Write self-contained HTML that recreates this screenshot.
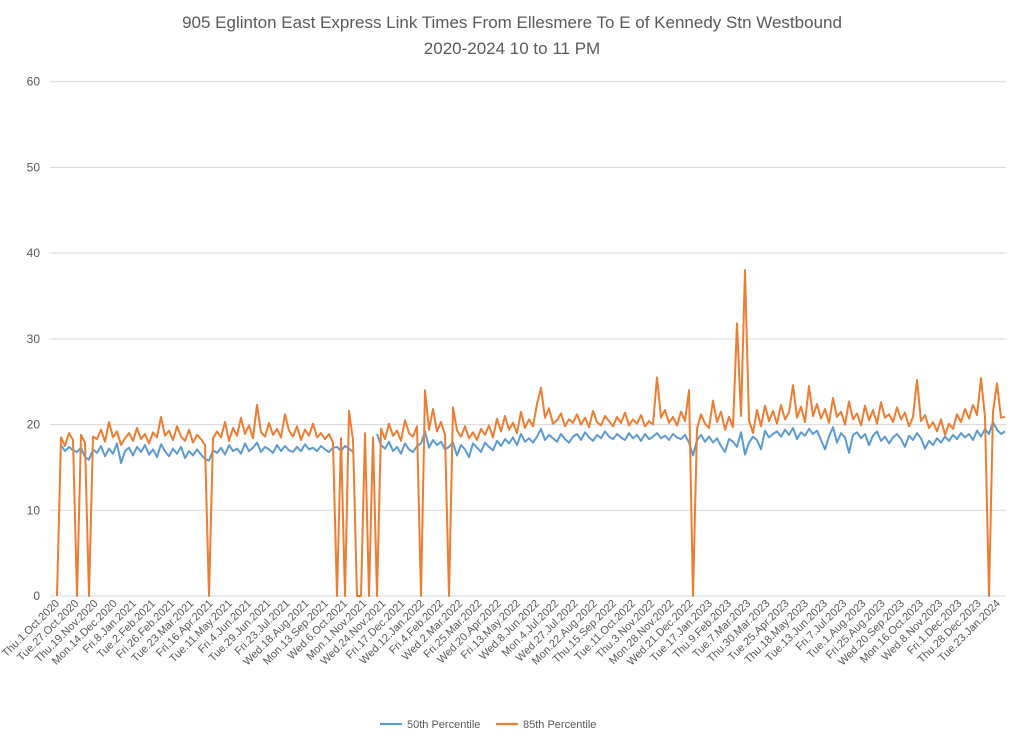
<!DOCTYPE html>
<html><head><meta charset="utf-8"><style>
body{margin:0;background:#fff;font-family:"Liberation Sans",sans-serif}
</style></head><body>
<svg id="chart" width="1024" height="743" viewBox="0 0 1024 743" xmlns="http://www.w3.org/2000/svg">
<rect width="1024" height="743" fill="#fff"/>
<text x="512" y="28" text-anchor="middle" font-size="17" fill="#595959">905 Eglinton East Express Link Times From Ellesmere To E of Kennedy Stn Westbound</text>
<text x="512" y="54" text-anchor="middle" font-size="17" fill="#595959">2020-2024 10 to 11 PM</text>
<g id="grid"></g>
<g id="yticks"></g>
<g id="xticks"></g>
<g id="series"></g>
<g>
<line x1="380" y1="724" x2="402" y2="724" stroke="#5B9BD5" stroke-width="2.2"/>
<text x="407" y="728" font-size="11" fill="#595959">50th Percentile</text>
<line x1="496" y1="724" x2="518" y2="724" stroke="#ED7D31" stroke-width="2.2"/>
<text x="523" y="728" font-size="11" fill="#595959">85th Percentile</text>
</g>
</svg>
<script>
const tickLabels=["Thu.1.Oct.2020","Tue.27.Oct.2020","Thu.19.Nov.2020","Mon.14.Dec.2020","Fri.8.Jan.2021","Tue.2.Feb.2021","Fri.26.Feb.2021","Tue.23.Mar.2021","Fri.16.Apr.2021","Tue.11.May.2021","Fri.4.Jun.2021","Tue.29.Jun.2021","Fri.23.Jul.2021","Wed.18.Aug.2021","Mon.13.Sep.2021","Wed.6.Oct.2021","Mon.1.Nov.2021","Wed.24.Nov.2021","Fri.17.Dec.2021","Wed.12.Jan.2022","Fri.4.Feb.2022","Wed.2.Mar.2022","Fri.25.Mar.2022","Wed.20.Apr.2022","Fri.13.May.2022","Wed.8.Jun.2022","Mon.4.Jul.2022","Wed.27.Jul.2022","Mon.22.Aug.2022","Thu.15.Sep.2022","Tue.11.Oct.2022","Thu.3.Nov.2022","Mon.28.Nov.2022","Wed.21.Dec.2022","Tue.17.Jan.2023","Thu.9.Feb.2023","Tue.7.Mar.2023","Thu.30.Mar.2023","Tue.25.Apr.2023","Thu.18.May.2023","Tue.13.Jun.2023","Fri.7.Jul.2023","Tue.1.Aug.2023","Fri.25.Aug.2023","Wed.20.Sep.2023","Mon.16.Oct.2023","Wed.8.Nov.2023","Fri.1.Dec.2023","Thu.28.Dec.2023","Tue.23.Jan.2024"];
const yTicks=[0,10,20,30,40,50,60];
const p85=[0,18.5,17.5,19,18.2,0,18.8,17.9,0,18.6,
18.3,19.4,18,20.3,18.5,19.2,17.6,18.4,19,18.1,
19.6,18.3,18.9,17.8,19.1,18.5,20.9,18.7,19.3,18.2,
19.8,18.6,18.1,19.4,17.9,18.8,18.3,17.6,0,18.4,
19.2,18.5,20.3,18.1,19.6,18.7,20.8,18.9,19.9,18.4,
22.3,19.1,18.6,20.2,18.8,19.5,18.5,21.2,19.3,18.6,
19.8,18.2,19.4,18.7,20.1,18.5,19,18.3,18.9,17.9,
0,18.4,0,21.6,18.2,0,0,19,0,18.5,
0,19.5,18.3,20.1,18.7,19.3,18.1,20.5,19,18.6,
19.8,0,24,19.4,21.8,19.2,20.3,18.8,0,22,
19.3,18.6,19.8,18.4,19.1,18.2,19.5,18.8,19.9,18.5,
20.7,19.2,21,19.4,20.2,19,21.5,19.6,20.6,19.8,
22.4,24.3,20.8,21.9,20.1,20.5,21.3,19.8,20.6,20.2,
21.2,20,20.8,19.7,21.6,20.3,19.9,21,20.4,19.8,
20.9,20.2,21.4,19.9,20.6,20.1,21.1,19.8,20.4,20,
25.5,20.8,21.7,20.2,20.9,19.9,21.5,20.4,24,0,
19.5,21.2,20.1,19.6,22.8,20.3,21.5,19.4,20.9,19.7,
31.8,21,38,20.5,19,21.7,19.8,22.2,20.4,21.6,
20.1,22.3,20.6,21.4,24.6,20.8,22.1,20.3,24.5,21,
22.4,20.7,21.8,20.2,23.1,20.9,21.5,20,22.7,20.6,
21.3,19.9,22.2,20.5,21.7,20.1,22.6,20.8,21.2,20.3,
22,20.6,21.4,19.8,20.9,25.2,20.4,21.1,19.6,20.3,
19.2,20.6,18.8,20.1,19.5,21.2,20.3,21.8,20.7,22.3,
21.1,25.4,20.9,0,21.5,24.8,20.8,20.9];
const p50=[null,17.6,16.9,17.4,17,16.8,17.3,16.2,15.9,17.1,
16.7,17.5,16.3,17.2,16.6,17.8,15.5,16.9,17.3,16.4,
17.4,16.8,17.6,16.5,17.1,16.2,17.7,16.9,16.3,17.2,
16.6,17.4,16.1,16.9,16.4,17.1,16.5,16,15.8,17,
16.7,17.3,16.5,17.6,16.9,17.2,16.6,17.8,16.9,17.3,
17.9,16.8,17.4,17.1,16.7,17.6,16.9,17.5,17,16.8,
17.4,16.9,17.7,17.1,17.3,16.9,17.5,17.1,16.8,17.3,
17.4,16.9,17.5,17.2,16.8,null,null,null,null,null,
18.9,17.6,17.2,18,16.9,17.4,16.6,17.8,17.1,16.8,
17.5,17.8,19.2,17.3,18.2,17.6,18,17.1,17.4,17.9,
16.4,17.6,17.1,16.2,17.8,17.3,16.8,17.9,17.4,17,
18.1,17.5,18.3,17.8,18.5,17.6,18.9,18,18.4,17.9,
18.6,19.5,18.2,18.8,18.4,18,18.9,18.3,17.9,18.6,
18.9,18.2,19.1,18.5,18.1,18.8,18.4,19.2,18.6,18.3,
18.9,18.5,18.2,19,18.4,18.8,18.1,18.9,18.3,18.6,
19,18.4,18.7,18.2,18.9,18.5,18.3,18.8,17.9,16.4,
18.2,18.8,18,18.6,17.9,18.4,17.5,16.8,18.3,18,
17.4,19.1,16.5,17.9,18.6,18.2,17.1,19.3,18.5,18.9,
19.2,18.6,19.4,18.8,19.6,18.3,19.1,18.7,19.5,18.9,
19.3,18.2,17.1,18.6,19.7,17.9,19,18.5,16.7,18.8,
19.1,18.4,18.9,17.6,18.7,19.2,18.1,18.6,17.8,18.5,
18.9,18.3,17.4,18.7,18.2,19,18.4,17.2,18.1,17.6,
18.4,17.9,18.6,18.1,18.8,18.3,19,18.5,18.9,18.2,
19.3,18.6,19.5,18.9,20.3,19.4,18.9,19.2];
const NS="http://www.w3.org/2000/svg";
const X0=57,X1=1005,PL=50,PR=1006,Y0=596,Y60=81.7;
const N=p85.length;
function xScale(i){return X0+(X1-X0)*i/(N-1);}
function yScale(v){return Y0-(Y0-Y60)*v/60;}
function labelX(k){return X0+k*19.2;}
function mk(t,a,p){const e=document.createElementNS(NS,t);for(const k in a)e.setAttribute(k,a[k]);p.appendChild(e);return e;}
const grid=document.getElementById('grid'),yt=document.getElementById('yticks'),xt=document.getElementById('xticks'),ser=document.getElementById('series');
yTicks.forEach(v=>{
 const l=mk('line',{x1:PL,x2:PR,y1:yScale(v),y2:yScale(v),stroke:'#D9D9D9','stroke-width':1},grid);
 
 
 const t=mk('text',{x:40,y:yScale(v)+4,'text-anchor':'end','font-size':12,fill:'#595959'},yt);
 
 
 t.textContent=v;
});
tickLabels.forEach((s,k)=>{
 const x=labelX(k);
 const t=mk('text',{x:x+3,y:604,'text-anchor':'end','font-size':11,fill:'#595959',transform:'rotate(-45 '+(x+3)+' 604)'},xt);
 
 
 t.textContent=s;
});
function path(arr){let d='',pen=false;arr.forEach((v,i)=>{if(v===null){pen=false;return;}d+=(pen?'L':'M')+xScale(i).toFixed(1)+' '+yScale(v).toFixed(1);pen=true;});return d;}
const pb=mk('path',{d:path(p50),fill:'none',stroke:'#5B9BD5','stroke-width':2,'stroke-linejoin':'round'},ser);


const po=mk('path',{d:path(p85),fill:'none',stroke:'#ED7D31','stroke-width':2,'stroke-linejoin':'round'},ser);


</script>
</body></html>
